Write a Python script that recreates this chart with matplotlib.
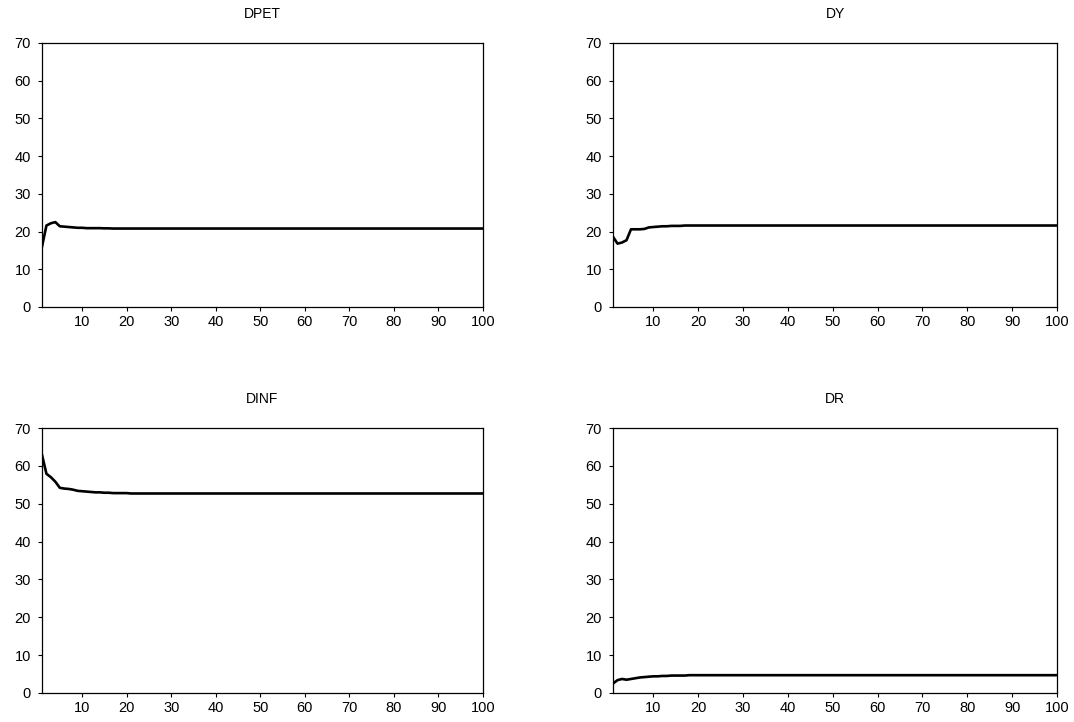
import numpy as np
import matplotlib
matplotlib.use("Agg")
import matplotlib.pyplot as plt

plt.rcParams["font.family"] = ["Liberation Sans", "DejaVu Sans"]

# Descomposición de varianza (%), horizonte 1..100
periods = list(range(1, 101))

dpet = [16.0, 21.6, 22.2, 22.5, 21.4, 21.3, 21.2, 21.1, 21.0, 21.0,
        20.9, 20.9, 20.9, 20.9, 20.85, 20.85] + [20.8] * 84
dy = [18.6, 16.8, 17.1, 17.7, 20.6, 20.6, 20.6, 20.7, 21.1, 21.2,
      21.3, 21.4, 21.4, 21.5, 21.5, 21.5] + [21.6] * 84
dinf = [62.9, 57.9, 57.0, 55.8, 54.2, 54.0, 53.9, 53.7, 53.4, 53.3,
        53.2, 53.1, 53.0, 53.0, 52.9, 52.9, 52.8, 52.8, 52.8, 52.8] + [52.7] * 80
dr = [2.5, 3.4, 3.7, 3.5, 3.7, 3.9, 4.1, 4.2, 4.3, 4.4,
      4.4, 4.5, 4.5, 4.6, 4.6, 4.6, 4.6] + [4.7] * 83

titles = ["DPET", "DY", "DINF", "DR"]
series = [dpet, dy, dinf, dr]

# posiciones de los paneles en fracción de la figura
boxes = [
    [0.0391, 0.5748, 0.4106, 0.3657],
    [0.5708, 0.5748, 0.4134, 0.3657],
    [0.0391, 0.0402, 0.4106, 0.3670],
    [0.5708, 0.0402, 0.4134, 0.3670],
]

fig = plt.figure(figsize=(10.74, 7.22), dpi=100)
fig.patch.set_facecolor("white")

for title, vals, box in zip(titles, series, boxes):
    ax = fig.add_axes(box)
    ax.plot(periods, vals, color="black", linewidth=1.9)
    ax.set_xlim(1, 100)
    ax.set_ylim(0, 70)
    ax.set_xticks(range(10, 101, 10))
    ax.set_yticks(range(0, 71, 10))
    ax.tick_params(direction="out", length=3, width=0.8, labelsize=10.5,
                   top=False, right=False)
    ax.tick_params(axis="x", pad=3)
    ax.tick_params(axis="y", pad=5)
    for s in ax.spines.values():
        s.set_linewidth(0.9)
        s.set_color("black")
    ax.set_title(title, fontsize=10, pad=18)

fig.savefig("out.png", dpi=100)
